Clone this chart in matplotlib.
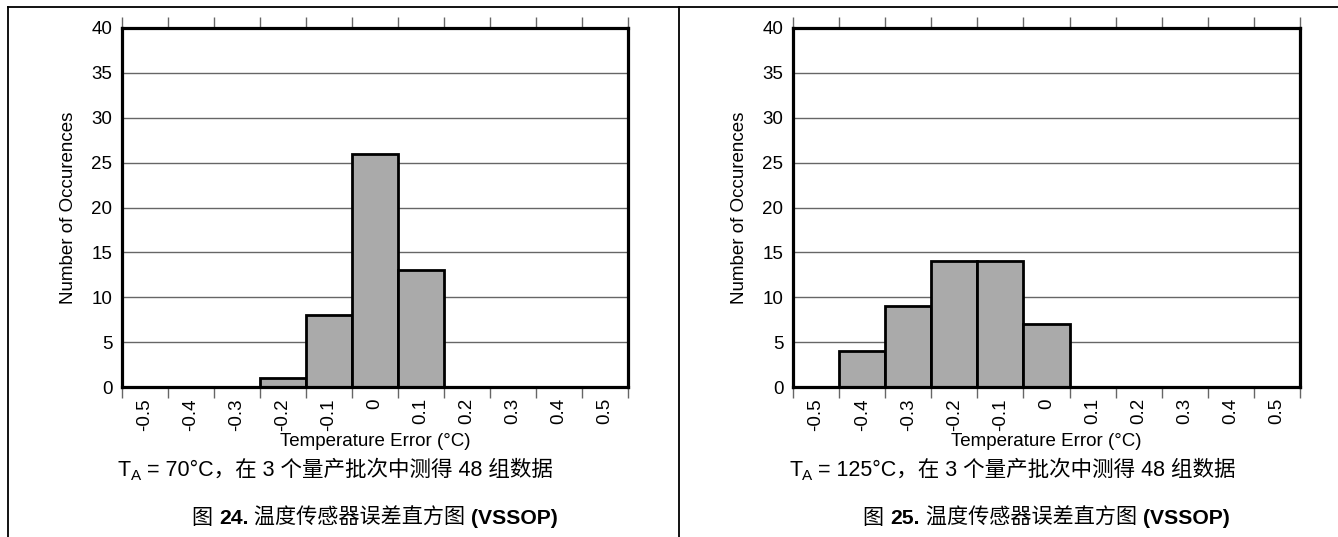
import matplotlib.pyplot as plt
import numpy as np
from matplotlib.lines import Line2D

plt.rcParams["font.family"] = ["Liberation Sans", "Noto Sans CJK SC", "DejaVu Sans"]

# Data
bin_centers = [-0.5, -0.4, -0.3, -0.2, -0.1, 0.0, 0.1, 0.2, 0.3, 0.4, 0.5]
tick_labels = ["-0.5", "-0.4", "-0.3", "-0.2", "-0.1", "0", "0.1", "0.2", "0.3", "0.4", "0.5"]
counts_70c = [0, 0, 0, 1, 8, 26, 13, 0, 0, 0, 0]
counts_125c = [0, 4, 9, 14, 14, 7, 0, 0, 0, 0, 0]
captions = [" = 70°C，在 3 个量产批次中测得 48 组数据", " = 125°C，在 3 个量产批次中测得 48 组数据"]
fig_numbers = ["24.", "25."]

W, H = 1338, 537
fig = plt.figure(figsize=(W / 100, H / 100), dpi=100)


def fx(px):
    return px / W


def fy(py):
    return 1 - py / H


def text_width(txt, **kw):
    t = fig.text(0, 0, txt, **kw)
    w = t.get_window_extent(fig.canvas.get_renderer()).width
    t.remove()
    return w


# Outer frame lines
fig.add_artist(Line2D([fx(8), 1], [fy(7), fy(7)], color="black", lw=1.3))
fig.add_artist(Line2D([fx(8), fx(8)], [fy(7), 0], color="black", lw=1.3))
fig.add_artist(Line2D([fx(679), fx(679)], [fy(7), 0], color="black", lw=1.3))

panels = [
    (122, 628, counts_70c, 70),
    (793, 1300, counts_125c, 741),
]

ax_top, ax_bot = 28, 387
fig.canvas.draw()
for i, (x0, x1, counts, ylab_x) in enumerate(panels):
    ax = fig.add_axes([fx(x0), fy(ax_bot), (x1 - x0) / W, (ax_bot - ax_top) / H])
    ax.set_axisbelow(True)
    ax.bar(bin_centers, counts, width=0.1, color="#aaaaaa", edgecolor="black", linewidth=2)
    ax.set_xlim(-0.55, 0.55)
    ax.set_ylim(0, 40)
    ax.set_yticks(np.arange(0, 41, 5))
    ax.yaxis.grid(True, color="#666666", linewidth=1)
    ax.tick_params(axis="y", length=0, pad=7, labelsize=13.5)

    ax.set_xticks(bin_centers)
    ax.set_xticklabels(tick_labels, rotation=90)
    ax.set_xticks(np.arange(-0.55, 0.56, 0.1), minor=True)
    ax.tick_params(axis="x", which="major", length=0, pad=8, labelsize=13.5)
    ax.tick_params(axis="x", which="minor", length=8, width=1, color="#666666",
                   direction="out", top=True, bottom=True)
    for s in ax.spines.values():
        s.set_linewidth(2.3)

    ax.set_ylabel("Number of Occurences", fontsize=13.5)
    ax.yaxis.set_label_coords((ylab_x + 7 - x0) / (x1 - x0), 0.5)
    ax.set_xlabel("Temperature Error (°C)", fontsize=13.5)
    ax.xaxis.set_label_coords(0.5, -(433 - ax_bot) / (ax_bot - ax_top))

    # Caption below the plot: T with subscript A, then the rest
    cap_x = x0 - 4
    fig.text(fx(cap_x), fy(470), "T", fontsize=15.5, ha="left", va="center")
    tw = text_width("T", fontsize=15.5)
    fig.text(fx(cap_x + tw), fy(476), "A", fontsize=11, ha="left", va="center")
    aw = text_width("A", fontsize=11)
    fig.text(fx(cap_x + tw + aw), fy(470), captions[i], fontsize=15.5, ha="left", va="center")

    # Figure title with mixed weights
    pieces = [("图 ", "normal"), (fig_numbers[i], "bold"),
              (" 温度传感器误差直方图 ", "normal"), ("(VSSOP)", "bold")]
    widths = [text_width(txt, fontsize=15.2, fontweight=wt) for txt, wt in pieces]
    start = (x0 + x1) / 2 - sum(widths) / 2
    for (txt, wt), w in zip(pieces, widths):
        fig.text(fx(start), fy(518), txt, fontsize=15.2, fontweight=wt, ha="left", va="center")
        start += w

fig.savefig("out.png", dpi=100)
